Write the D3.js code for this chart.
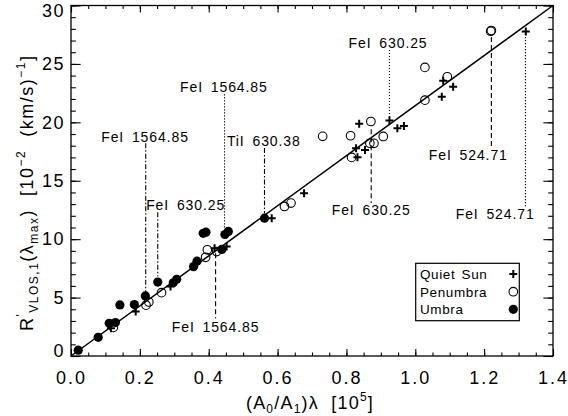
<!DOCTYPE html>
<html><head><meta charset="utf-8">
<script src="https://cdn.jsdelivr.net/npm/d3@7"></script>
<style>body{margin:0;background:#fff}svg{display:block}text{font-family:"Liberation Sans",Arial,sans-serif;fill:#000}</style>
</head><body>
<script>
// ---- data ----
const quietSunX = [0.116,0.188,0.289,0.417,0.452,0.583,0.677,0.828,0.832,0.837,0.854,0.925,0.948,0.967,1.077,1.081,1.110,1.321];
const quietSunY = [2.37,3.80,5.95,9.23,9.37,11.80,13.94,17.78,17.01,19.87,17.64,20.15,19.50,19.68,22.20,23.56,23.05,27.78];
const penumbraX = [0.123,0.218,0.226,0.263,0.391,0.396,0.423,0.620,0.639,0.731,0.812,0.815,0.871,0.868,0.880,0.907,1.028,1.028,1.093,1.219,1.221];
const penumbraY = [2.45,4.35,4.62,5.42,8.45,9.09,8.94,12.80,13.09,18.80,18.85,17.00,20.07,18.21,18.20,18.79,21.90,24.70,23.90,27.80,27.86];
const umbraX = [0.021,0.079,0.111,0.129,0.142,0.184,0.216,0.252,0.297,0.307,0.356,0.366,0.384,0.392,0.438,0.447,0.457,0.562];
const umbraY = [0.50,1.60,2.80,2.86,4.37,4.40,5.14,6.33,6.27,6.57,7.65,8.12,10.50,10.60,9.12,10.40,10.66,11.80];
const fitX = [0, 1.4];
const fitY = [0, 30];
const xTicks = [0.0,0.2,0.4,0.6,0.8,1.0,1.2,1.4];
const yTicks = [0,5,10,15,20,25,30];
const annLabels = ["FeI 1564.85","FeI 630.25","FeI 1564.85","TiI 630.38","FeI 1564.85","FeI 630.25","FeI 630.25","FeI 524.71","FeI 524.71"];
const annLabelX = [0.215,0.333,0.444,0.560,0.420,0.921,0.872,1.154,1.232];
const annLabelY = [18.74,12.93,23.03,18.37,2.46,26.80,12.46,17.23,12.14];
const annLineX  = [0.217,0.252,0.446,0.562,0.420,0.925,0.872,1.221,1.320];
const annLineTop= [18.2,12.3,22.4,17.8,8.8,26.2,19.4,27.3,27.3];
const annLineBot= [5.4,6.8,10.8,12.2,3.2,20.3,13.1,17.9,12.7];
const annStyle  = ["dashdot","dashdot","dot","dashdot","dash","dot","dash","dash","dot"];
const legendNames = ["Quiet Sun","Penumbra","Umbra"];

// ---- layout ----
const W=568,H=416, L=71,R=553,T=5.5,B=356;
const svg=d3.select("body").append("svg").attr("width",W).attr("height",H);
const x=d3.scaleLinear().domain([0,1.4]).range([L,R]);
const y=d3.scaleLinear().domain([0,30]).range([B,T]);

// frame
svg.append("rect").attr("x",L).attr("y",T).attr("width",R-L).attr("height",B-T)
  .attr("fill","none").attr("stroke","#000").attr("stroke-width",1.3);

const xMinor=d3.range(0,1.4001,0.05), yMinor=d3.range(0,30.001,1);
function ax(gen,tr,vals,len,labels){
  const g=svg.append("g").attr("transform",tr).call(gen.tickValues(vals).tickSize(-len).tickFormat(labels?labels:""));
  g.select(".domain").remove();
  g.selectAll(".tick line").attr("stroke","#000").attr("stroke-width",1.1);
  return g;
}
ax(d3.axisBottom(x),`translate(0,${B})`,xMinor,3.5);
ax(d3.axisTop(x),`translate(0,${T})`,xMinor,3.5);
ax(d3.axisLeft(y),`translate(${L},0)`,yMinor,4.8);
ax(d3.axisRight(y),`translate(${R},0)`,yMinor,4.8);
const gb=ax(d3.axisBottom(x),`translate(0,${B})`,xTicks,7,d3.format(".1f"));
gb.selectAll("text").attr("font-size",18).attr("dy",0).attr("y",28).attr("letter-spacing",2).attr("font-family","Liberation Sans, Arial, sans-serif");
ax(d3.axisTop(x),`translate(0,${T})`,xTicks,7);
const gl=ax(d3.axisLeft(y),`translate(${L},0)`,yTicks,9.6,d3.format("d"));
gl.selectAll("text").attr("font-size",18).attr("x",-6).attr("letter-spacing",1.5).attr("font-family","Liberation Sans, Arial, sans-serif")
  .attr("dy",d=>d===0?"0.0em":d===30?"0.62em":"0.32em");
ax(d3.axisRight(y),`translate(${R},0)`,yTicks,9.6);

// fit line
svg.append("line").attr("x1",x(fitX[0])).attr("y1",y(fitY[0])).attr("x2",x(fitX[1])).attr("y2",y(fitY[1]))
  .attr("stroke","#000").attr("stroke-width",1.5);

// annotations
const dashes={dashdot:"5,2,1.5,2",dot:"1.2,1.8",dash:"5,3"};
annLabels.forEach((t,i)=>{
  svg.append("line").attr("x1",x(annLineX[i])).attr("x2",x(annLineX[i]))
    .attr("y1",y(annLineTop[i])).attr("y2",y(annLineBot[i]))
    .attr("stroke","#000").attr("stroke-width",1.1).attr("stroke-dasharray",dashes[annStyle[i]]);
  svg.append("text").attr("x",x(annLabelX[i])).attr("y",y(annLabelY[i])).attr("dy","0.36em")
    .attr("text-anchor","middle").attr("font-size",14).attr("letter-spacing",0.9).attr("word-spacing",3).text(t);
});

// symbols
function plus(g,cx,cy,s){
  g.append("path").attr("d",`M${cx-s},${cy}H${cx+s}M${cx},${cy-s}V${cy+s}`).attr("stroke","#000").attr("stroke-width",2).attr("fill","none");
}
const gp=svg.append("g");
penumbraX.forEach((v,i)=>gp.append("circle").attr("cx",x(v)).attr("cy",y(penumbraY[i])).attr("r",4.3)
  .attr("fill","none").attr("stroke","#000").attr("stroke-width",1.1));
const gu=svg.append("g");
umbraX.forEach((v,i)=>gu.append("circle").attr("cx",x(v)).attr("cy",y(umbraY[i])).attr("r",4.6).attr("fill","#000"));
const gq=svg.append("g");
quietSunX.forEach((v,i)=>plus(gq,x(v),y(quietSunY[i]),4));

// legend
const lg=svg.append("g");
lg.append("rect").attr("x",415.7).attr("y",263.3).attr("width",103.6).attr("height",57.4)
  .attr("fill","#fff").attr("stroke","#000").attr("stroke-width",1.2);
const rowsY=[274,291.7,309.3];
legendNames.forEach((n,i)=>{
  lg.append("text").attr("x",420).attr("y",rowsY[i]).attr("dy","0.36em").attr("font-size",13.5).attr("letter-spacing",0.6).attr("word-spacing",2).text(n);
});
plus(lg,513.3,rowsY[0],4);
lg.append("circle").attr("cx",513.3).attr("cy",rowsY[1]).attr("r",4.3).attr("fill","none").attr("stroke","#000").attr("stroke-width",1.1);
lg.append("circle").attr("cx",513.3).attr("cy",rowsY[2]).attr("r",4.6).attr("fill","#000");

// x axis title
const xt=svg.append("text").attr("x",310).attr("y",409).attr("text-anchor","middle").attr("font-size",18).attr("letter-spacing",1.2).attr("xml:space","preserve").style("white-space","pre");
xt.append("tspan").text("(A");
xt.append("tspan").attr("font-size",12).attr("dy",4).text("0");
xt.append("tspan").attr("dy",-4).text("/A");
xt.append("tspan").attr("font-size",12).attr("dy",4).text("1");
xt.append("tspan").attr("dy",-4).text(")λ  [10");
xt.append("tspan").attr("font-size",12).attr("dy",-8).text("5");
xt.append("tspan").attr("dy",8).text("]");

// y axis title
const yt=svg.append("text").attr("transform",`translate(33,${(T+B)/2+12}) rotate(-90)`).attr("text-anchor","middle").attr("font-size",18).attr("letter-spacing",1.5).attr("xml:space","preserve").style("white-space","pre");
yt.append("tspan").text("R");
yt.append("tspan").attr("font-size",12).attr("dy",-8).text("'");
yt.append("tspan").attr("font-size",12).attr("dy",13).text("VLOS,1");
yt.append("tspan").attr("dy",-5).text("(λ");
yt.append("tspan").attr("font-size",12).attr("dy",5).text("max");
yt.append("tspan").attr("dy",-5).text(")  [10");
yt.append("tspan").attr("font-size",12).attr("dy",-8).text("−2");
yt.append("tspan").attr("dy",8).text("  (km/s)");
yt.append("tspan").attr("font-size",12).attr("dy",-8).text("−1");
yt.append("tspan").attr("dy",8).text("]");
</script>
</body></html>
